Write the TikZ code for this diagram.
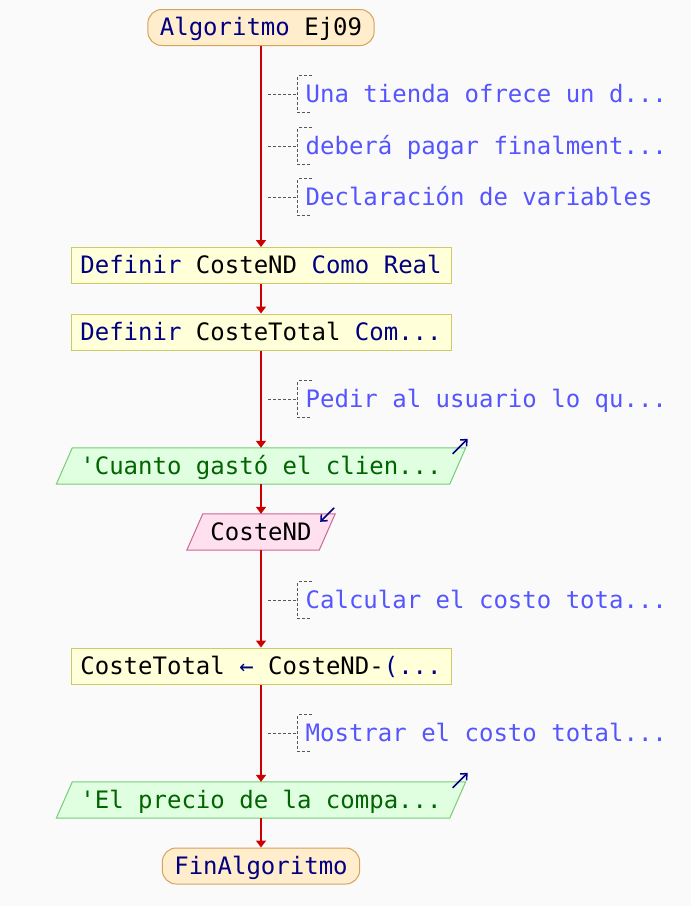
\documentclass[tikz,border=0pt]{standalone}
\usepackage{fontspec}
\setmonofont{DejaVu Sans Mono}
\usetikzlibrary{arrows.meta,backgrounds}

\definecolor{fondo}{HTML}{FAFAFA}
\definecolor{flujo}{HTML}{CC0000}
\definecolor{clave}{HTML}{000080}
\definecolor{coment}{HTML}{5555FF}
\definecolor{termfondo}{HTML}{FFEDCC}
\definecolor{termborde}{HTML}{D4A35C}
\definecolor{procfondo}{HTML}{FFFFDA}
\definecolor{procborde}{HTML}{CCCC66}
\definecolor{entfondo}{HTML}{E0FFE0}
\definecolor{entborde}{HTML}{77CC77}
\definecolor{enttexto}{HTML}{006400}
\definecolor{varfondo}{HTML}{FFE0EE}
\definecolor{varborde}{HTML}{CC6699}
\definecolor{punteado}{HTML}{555555}

\newcommand{\kw}[1]{\textcolor{clave}{#1}}
\newcommand{\etc}{...}

\tikzset{
  texto/.style={font=\ttfamily\fontsize{24}{28}\selectfont, text height=18pt, text depth=2pt, inner ysep=0pt, minimum height=36pt},
  terminal/.style={texto, draw=termborde, fill=termfondo, line width=1pt, rounded corners=14pt, inner xsep=12pt},
  proceso/.style={texto, draw=procborde, fill=procfondo, line width=1pt, minimum width=380pt},
  entrada/.style={texto, text=enttexto, minimum width=393pt},
  varbox/.style={texto, minimum width=132pt},
  entforma/.style={draw=entborde, fill=entfondo, line width=1pt},
  varforma/.style={draw=varborde, fill=varfondo, line width=1pt},
  comentario/.style={texto, text=coment, anchor=west, inner xsep=8pt},
  enlace/.style={punteado, line width=1pt, dash pattern=on 3pt off 2pt},
  flecha/.style={flujo, line width=2pt, -{Triangle[width=10pt,length=7pt]}},
  marca/.style={clave, line width=1.5pt, -{Straight Barb[length=5pt,width=9pt]}}
}

\begin{document}
\begin{tikzpicture}[x=1pt,y=-1pt]
\useasboundingbox (0,0) rectangle (691,906);

\node[terminal] (inicio) at (261,27.5) {\kw{Algoritmo} Ej09};
\node[proceso] (def1) at (261,265.5) {\kw{Definir} CosteND \kw{Como} \kw{Real}};
\node[proceso] (def2) at (261,332) {\kw{Definir} CosteTotal \kw{Com\etc}};
\node[entrada] (leer) at (261,466) {'Cuanto gastó el clien\etc};
\node[varbox] (var) at (261,532) {CosteND};
\node[proceso] (asig) at (261,666) {CosteTotal \kw{←} CosteND-\kw{(\etc}};
\node[entrada] (escr) at (261,800) {'El precio de la compa\etc};
\node[terminal] (fin) at (261,866) {\kw{FinAlgoritmo}};

% parallelograms behind the read / write nodes
\begin{scope}[on background layer]
  \fill[fondo] (0,0) rectangle (691,906);
  \foreach \n/\f in {leer/entforma, var/varforma, escr/entforma}
    \draw[\f] ([xshift=8pt]\n.north west) -- ([xshift=8pt]\n.north east)
      -- ([xshift=-8pt]\n.south east) -- ([xshift=-8pt]\n.south west) -- cycle;
\end{scope}

\foreach \a/\b in {inicio/def1, def1/def2, def2/leer, leer/var, var/asig, asig/escr, escr/fin}
  \draw[flecha] (\a) -- (\b);

\draw[marca] ([shift={(-5,6)}]leer.north east) -- ++(15,-15);
\draw[marca] ([shift={(-5,6)}]escr.north east) -- ++(15,-15);
\draw[marca] ([shift={(7,-6)}]var.north east) -- ++(-14,14);

% comments
\foreach \n/\y/\txt in {
    c1/94/Una tienda ofrece un d\etc,
    c2/146/deberá pagar finalment\etc,
    c3/197/Declaración de variables,
    c4/399/Pedir al usuario lo qu\etc,
    c5/600/Calcular el costo tota\etc,
    c6/733/Mostrar el costo total\etc
} {
    \node[comentario] (\n) at (297.5,\y) {\txt};
    \coordinate (p\n) at (268,\y);
    \draw[enlace] (p\n) -- (\n.west);
    \draw[enlace] ([xshift=14pt]\n.north west) -- (\n.north west) -- (\n.south west) -- ([xshift=14pt]\n.south west);
}

\end{tikzpicture}
\end{document}
